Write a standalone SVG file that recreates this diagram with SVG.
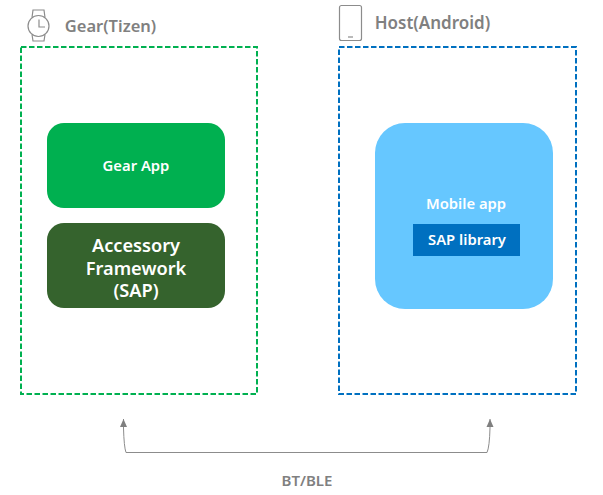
<svg xmlns="http://www.w3.org/2000/svg" width="603" height="495" viewBox="0 0 603 495">
<defs>
<marker id="ah" markerUnits="userSpaceOnUse" markerWidth="10" markerHeight="10" refX="8" refY="4" orient="auto-start-reverse"><path d="M0 0.500 L8 4 L0 7.500 Z" fill="#7f7f7f"/></marker>
</defs>
<style>
text{font-family:"Noto Sans","Open Sans","Liberation Sans",sans-serif;font-weight:600;text-anchor:middle}
.g{fill:#808080;font-size:16.500px}
.w{fill:#fff;font-size:14.800px}
.f{fill:#fff;font-size:18.200px}
.i{fill:none;stroke:#8c8c8c;stroke-width:1.2}
.c{fill:none;stroke-width:2;stroke-dasharray:5.5 2.5}
</style>
<rect width="603" height="495" fill="#fff"/>
<g id="gear">
<rect class="c" x="21" y="47" width="236" height="347" stroke="#00b050"/>
<g id="watch-icon">
<circle class="i" cx="38.500" cy="26" r="10.500"/>
<path class="i" d="M32 17.500 L33 10 H44 L45 17.500 M32 34.500 L33 41 H44 L45 34.500 M39 19.500 V27 H45"/>
</g>
<text class="g" x="110.500" y="32">Gear(Tizen)</text>
</g>
<g id="gear-app">
<rect x="47" y="123" width="178" height="85" rx="17" fill="#00b050"/>
<text class="w" x="136" y="171">Gear App</text>
</g>
<g id="framework">
<rect x="47" y="223" width="178" height="85" rx="17" fill="#35632d"/>
<text class="f" x="136" y="252">Accessory</text>
<text class="f" x="136" y="275">Framework</text>
<text class="f" x="136" y="297">(SAP)</text>
</g>
<g id="host">
<rect class="c" x="339" y="47" width="237" height="347" stroke="#0070c0"/>
<g id="tablet-icon">
<rect class="i" x="339.500" y="5.500" width="22" height="35" rx="2"/>
<path class="i" d="M348 37 H353"/>
</g>
<text class="g" x="432.500" y="29" style="font-size:17px">Host(Android)</text>
</g>
<g id="mobile-app">
<rect x="375" y="123" width="178" height="186" rx="30" fill="#66c7ff"/>
<text class="w" x="466" y="209">Mobile app</text>
<rect x="413" y="224" width="107" height="32" fill="#0070c0"/>
<text class="w" x="467" y="245">SAP library</text>
</g>
<g id="connectors">
<path d="M123.500 419 V428 Q124 447 126 452.500 H487 Q489.500 447 490 428 V419" fill="none" stroke="#8c8c8c" stroke-width="1" marker-start="url(#ah)" marker-end="url(#ah)"/>
</g>
<text x="307" y="486" fill="#808080" font-size="15">BT/BLE</text>
</svg>
